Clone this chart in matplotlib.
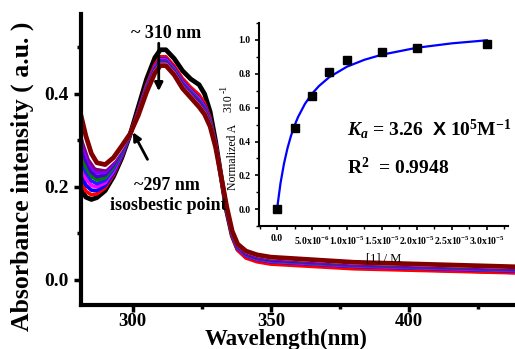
import matplotlib
matplotlib.use("Agg")
import matplotlib.pyplot as plt
from matplotlib.ticker import MultipleLocator, FixedLocator

plt.rcParams['font.family'] = 'Liberation Serif'
plt.rcParams['mathtext.fontset'] = 'custom'
plt.rcParams['mathtext.rm'] = 'Liberation Serif:bold'
plt.rcParams['mathtext.it'] = 'Liberation Serif:italic:bold'
plt.rcParams['mathtext.bf'] = 'Liberation Serif:bold'
plt.rcParams['mathtext.sf'] = 'Liberation Sans:bold'

# UV-vis spectra, absorbance vs wavelength (nm)
wavelength = [281, 283, 285, 287, 290, 293, 296, 299, 302, 305, 308, 310, 312, 315,
              318, 321, 324, 326, 328, 330, 332, 334, 336, 338, 341, 345, 350, 380, 440]

abs_black = [0.200, 0.178, 0.173, 0.177, 0.192, 0.222, 0.262, 0.312, 0.372, 0.432, 0.478,
             0.495, 0.495, 0.476, 0.450, 0.432, 0.420, 0.400, 0.362, 0.298, 0.222, 0.148,
             0.095, 0.066, 0.050, 0.042, 0.037, 0.027, 0.017]
abs_red = [0.216, 0.191, 0.183, 0.185, 0.198, 0.226, 0.265, 0.312, 0.364, 0.419, 0.463,
           0.480, 0.480, 0.460, 0.433, 0.414, 0.398, 0.380, 0.348, 0.293, 0.221, 0.148,
           0.094, 0.064, 0.047, 0.039, 0.034, 0.024, 0.015]
abs_blue = [0.232, 0.204, 0.193, 0.192, 0.203, 0.230, 0.267, 0.312, 0.361, 0.415, 0.458,
            0.475, 0.475, 0.455, 0.427, 0.408, 0.391, 0.374, 0.343, 0.292, 0.222, 0.150,
            0.097, 0.068, 0.052, 0.044, 0.039, 0.029, 0.019]
abs_magenta = [0.248, 0.218, 0.203, 0.200, 0.209, 0.234, 0.270, 0.313, 0.360, 0.414, 0.457,
               0.473, 0.473, 0.453, 0.425, 0.406, 0.389, 0.371, 0.341, 0.291, 0.222, 0.151,
               0.098, 0.069, 0.053, 0.045, 0.040, 0.030, 0.020]
abs_blue2 = [0.264, 0.231, 0.213, 0.207, 0.214, 0.238, 0.272, 0.313, 0.359, 0.412, 0.455,
             0.471, 0.471, 0.451, 0.423, 0.404, 0.386, 0.369, 0.340, 0.290, 0.222, 0.152,
             0.099, 0.070, 0.054, 0.046, 0.041, 0.031, 0.021]
abs_green = [0.280, 0.244, 0.223, 0.215, 0.220, 0.243, 0.275, 0.313, 0.358, 0.411, 0.453,
             0.469, 0.469, 0.450, 0.421, 0.402, 0.384, 0.367, 0.338, 0.289, 0.222, 0.153,
             0.100, 0.071, 0.055, 0.047, 0.042, 0.032, 0.022]
abs_navy = [0.296, 0.257, 0.232, 0.222, 0.226, 0.247, 0.278, 0.313, 0.358, 0.410, 0.452,
            0.468, 0.468, 0.448, 0.420, 0.400, 0.382, 0.365, 0.336, 0.288, 0.222, 0.154,
            0.101, 0.072, 0.056, 0.048, 0.043, 0.033, 0.023]
abs_violet = [0.312, 0.270, 0.242, 0.230, 0.231, 0.251, 0.280, 0.313, 0.357, 0.408, 0.450,
              0.466, 0.466, 0.446, 0.418, 0.398, 0.379, 0.363, 0.335, 0.287, 0.222, 0.155,
              0.102, 0.073, 0.058, 0.050, 0.045, 0.034, 0.024]
abs_purple = [0.328, 0.284, 0.252, 0.237, 0.237, 0.255, 0.283, 0.314, 0.356, 0.407, 0.448,
              0.464, 0.464, 0.444, 0.416, 0.396, 0.377, 0.360, 0.333, 0.287, 0.222, 0.156,
              0.103, 0.074, 0.059, 0.051, 0.046, 0.035, 0.025]
abs_white = [0.344, 0.297, 0.262, 0.245, 0.242, 0.259, 0.285, 0.314, 0.355, 0.405, 0.447,
             0.463, 0.463, 0.443, 0.414, 0.394, 0.374, 0.358, 0.332, 0.286, 0.222, 0.157,
             0.104, 0.076, 0.061, 0.053, 0.048, 0.037, 0.027]
abs_wine = [0.360, 0.310, 0.272, 0.252, 0.248, 0.263, 0.288, 0.314, 0.354, 0.404, 0.445,
            0.461, 0.461, 0.441, 0.412, 0.392, 0.372, 0.356, 0.330, 0.285, 0.222, 0.158,
            0.105, 0.077, 0.062, 0.054, 0.049, 0.038, 0.028]

spectra = [abs_black, abs_red, abs_blue, abs_magenta, abs_blue2, abs_green,
           abs_navy, abs_violet, abs_purple, abs_white, abs_wine]
colors = ['black', '#ff0000', '#0000ff', '#ff00ff', '#2020ff', '#008000',
          '#4400cc', '#8000ff', '#800080', 'white', '#800000']

# binding titration (inset)
conc = [0.0, 2.5e-6, 5.0e-6, 7.5e-6, 1.0e-5, 1.5e-5, 2.0e-5, 3.0e-5]
norm_a = [0.0, 0.48, 0.67, 0.81, 0.88, 0.93, 0.95, 0.975]
fit_conc = [0.0, 0.5e-6, 1.0e-6, 1.5e-6, 2.0e-6, 2.5e-6, 3.0e-6, 4.0e-6, 5.0e-6, 6.0e-6,
            7.5e-6, 1.0e-5, 1.25e-5, 1.5e-5, 2.0e-5, 2.5e-5, 3.0e-5]
fit_a = [0.0, 0.154, 0.270, 0.361, 0.434, 0.494, 0.544, 0.623, 0.682, 0.728,
         0.781, 0.842, 0.883, 0.913, 0.954, 0.980, 0.998]
inset_xticks = [0.0, 5.0e-6, 1.0e-5, 1.5e-5, 2.0e-5, 2.5e-5, 3.0e-5]
inset_xlabels = ['0.0', r'5.0x10$^{-6}$', r'1.0x10$^{-5}$', r'1.5x10$^{-5}$',
                 r'2.0x10$^{-5}$', r'2.5x10$^{-5}$', r'3.0x10$^{-5}$']

fig = plt.figure(figsize=(5.15, 3.49), dpi=100)
ax = fig.add_axes([0.157, 0.126, 0.843, 0.834])

for vals, c in zip(spectra, colors):
    lw = 3.4 if c in ('#800000', 'black') else 2.6
    ax.plot(wavelength, vals, color=c, lw=lw, solid_joinstyle='round',
            solid_capstyle='round')

ax.set_xlim(281.2, 438.4)
ax.set_ylim(-0.054, 0.572)
ax.spines['top'].set_visible(False)
ax.spines['right'].set_visible(False)
for s in ('left', 'bottom'):
    ax.spines[s].set_linewidth(3)
ax.xaxis.set_major_locator(MultipleLocator(50))
ax.xaxis.set_minor_locator(MultipleLocator(25))
ax.yaxis.set_major_locator(MultipleLocator(0.2))
ax.yaxis.set_minor_locator(MultipleLocator(0.1))
ax.tick_params(which='major', direction='out', length=5, width=2.5, labelsize=14)
ax.tick_params(axis='x', which='major', pad=0.5, labelsize=13.5)
ax.tick_params(which='minor', direction='out', length=3, width=2.5)
for lab in ax.get_xticklabels() + ax.get_yticklabels():
    lab.set_fontweight('bold')
ax.yaxis.set_major_formatter(matplotlib.ticker.FormatStrFormatter('%.1f'))

fig.text(22 / 515, 1 - 176 / 349, 'Absorbance intensity ( a.u. )', rotation=90,
         ha='center', va='center', fontsize=18.5, fontweight='bold')
fig.text(286 / 515, 1 - 339.5 / 349, 'Wavelength(nm)', ha='center', va='center',
         fontsize=16.5, fontweight='bold')

ax.text(312, 0.53, '~ 310 nm', ha='center', va='center', fontsize=13, fontweight='bold')
ax.annotate('', xy=(309.4, 0.40), xytext=(309.4, 0.515),
            arrowprops=dict(arrowstyle='-|>', color='black', lw=2, mutation_scale=12))
ax.annotate('', xy=(299.6, 0.323), xytext=(305.8, 0.254),
            arrowprops=dict(arrowstyle='-|>', color='black', lw=2, mutation_scale=12))
ax.text(312.5, 0.204, '~297 nm', ha='center', va='center', fontsize=13, fontweight='bold')
ax.text(312.7, 0.161, 'isosbestic point', ha='center', va='center', fontsize=13,
        fontweight='bold')

# inset
ins = fig.add_axes([0.503, 0.352, 0.483, 0.582])
ins.patch.set_alpha(0)
ins.plot(fit_conc, fit_a, color='#0000ff', lw=1.6)
ins.plot(conc, norm_a, 's', color='black', ms=5.5)
ins.set_xlim(-2.57e-6, 3.3e-5)
ins.set_ylim(-0.1, 1.1)
ins.spines['top'].set_visible(False)
ins.spines['right'].set_visible(False)
for s in ('left', 'bottom'):
    ins.spines[s].set_linewidth(1.5)
ins.xaxis.set_major_locator(FixedLocator(inset_xticks))
ins.xaxis.set_minor_locator(MultipleLocator(2.5e-6))
ins.set_xticklabels(inset_xlabels)
ins.yaxis.set_major_locator(MultipleLocator(0.2))
ins.yaxis.set_minor_locator(MultipleLocator(0.1))
ins.yaxis.set_major_formatter(matplotlib.ticker.FormatStrFormatter('%.1f'))
ins.tick_params(which='major', direction='out', length=3, width=1.2, labelsize=7, pad=3)
ins.tick_params(which='minor', direction='out', length=2, width=1.0)
for lab in ins.get_xticklabels() + ins.get_yticklabels():
    lab.set_fontweight('bold')
ins.set_xlabel('[1] / M', fontsize=9, labelpad=4)
fig.text(233 / 515, 1 - 157 / 349, 'Normalized A', rotation=90, ha='center',
         va='center', fontsize=8.5)
fig.text(228 / 515, 1 - 103 / 349, '310', rotation=90, ha='center', va='center', fontsize=8.5)
fig.text(224 / 515, 1 - 89 / 349, '-1', rotation=90, ha='center', va='center', fontsize=7)

ins.text(0.352, 0.48, r'$K_a$ = 3.26  $\mathsf{X}$ 10$^5$M$^{-1}$', transform=ins.transAxes,
         ha='left', va='center', fontsize=14, fontweight='bold')
ins.text(0.352, 0.29, r'R$^2$  = 0.9948', transform=ins.transAxes,
         ha='left', va='center', fontsize=14, fontweight='bold')

fig.savefig('out.png', dpi=100)
